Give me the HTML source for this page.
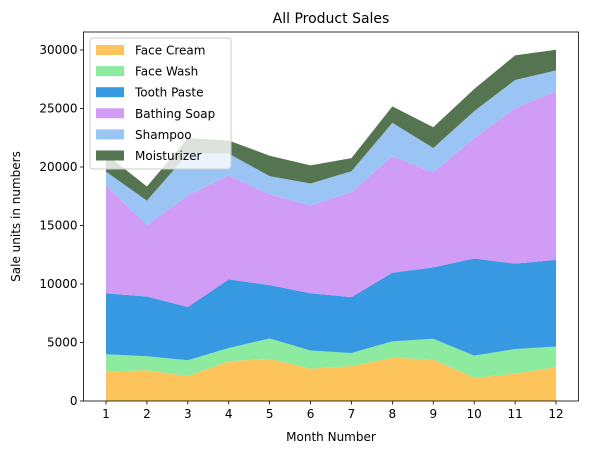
<!DOCTYPE html>
<html><head><meta charset="utf-8"><style>
body{margin:0;background:#fff;font-family:"Liberation Sans","DejaVu Sans",sans-serif}
svg text{font-family:"DejaVu Sans","Liberation Sans",sans-serif}
</style></head><body>
<svg id="c" width="589" height="455"></svg>
<script>
const months=[1,2,3,4,5,6,7,8,9,10,11,12];
const faceCream=[2500,2630,2140,3400,3600,2760,2980,3700,3540,1990,2340,2900];
const faceWash=[1500,1200,1340,1130,1740,1555,1120,1400,1780,1890,2100,1760];
const toothPaste=[5200,5100,4550,5870,4560,4890,4780,5860,6100,8300,7300,7400];
const bathingSoap=[9200,6100,9550,8870,7760,7490,8980,9960,8100,10300,13300,14400];
const shampoo=[1200,2100,3550,1870,1560,1890,1780,2860,2100,2300,2400,1800];
const moisturizer=[1500,1200,1340,1130,1740,1555,1120,1400,1780,1890,2100,1760];
const seriesNames=["Face Cream","Face Wash","Tooth Paste","Bathing Soap","Shampoo","Moisturizer"];
const yTicks=[0,5000,10000,15000,20000,25000,30000];

const colors=["#fdc45c","#8deba0","#3799e2","#d19cf5","#99c4f4","#557550"];
const L=83.5,R=578.5,T=32,B=401;
const NS="http://www.w3.org/2000/svg";
const svg=document.getElementById('c');
const x=m=>106+(m-1)*(556-106)/11;
const y=v=>B-v*(401-50)/30000;
function el(t,a,p){const e=document.createElementNS(NS,t);for(const k in a)e.setAttribute(k,a[k]);(p||svg).appendChild(e);return e;}
const series=[faceCream,faceWash,toothPaste,bathingSoap,shampoo,moisturizer];
let base=months.map(()=>0);
series.forEach((s,i)=>{
  const top=base.map((b,j)=>b+s[j]);
  let d="M"+months.map((m,j)=>x(m)+","+y(top[j])).join("L");
  d+="L"+months.slice().reverse().map((m,k)=>{const j=months.length-1-k;return x(m)+","+y(base[j]);}).join("L")+"Z";
  const p=el('path',{d:d,fill:colors[i]});
  
  
  base=top;
});
const frame=el('rect',{x:L,y:T,width:R-L,height:B-T,fill:'none',stroke:'#000','stroke-width':0.8});


months.forEach(m=>{
  el('line',{x1:x(m),x2:x(m),y1:B,y2:B+3.5,stroke:'#000','stroke-width':0.8});
  const t=el('text',{x:x(m),y:B+17,'text-anchor':'middle','font-size':12});t.textContent=m;
  
  
});
yTicks.forEach(v=>{
  el('line',{x1:L-3.5,x2:L,y1:y(v),y2:y(v),stroke:'#000','stroke-width':0.8});
  const t=el('text',{x:L-6,y:y(v)+4,'text-anchor':'end','font-size':12});t.textContent=v;
  
  
});
let t=el('text',{x:(L+R)/2,y:23,'text-anchor':'middle','font-size':14});t.textContent="All Product Sales";


t=el('text',{x:(L+R)/2,y:441,'text-anchor':'middle','font-size':12});t.textContent="Month Number";


t=el('text',{x:20,y:(T+B)/2,'text-anchor':'middle','font-size':12,transform:`rotate(-90 20 ${(T+B)/2})`});t.textContent="Sale units in numbers";


const lg=el('g',{});


el('rect',{x:90,y:38,width:141,height:131,rx:3,fill:'#fff','fill-opacity':0.8,stroke:'#ccc'},lg);
seriesNames.forEach((n,i)=>{
  const yy=50+i*21.1;
  el('rect',{x:96,y:yy-5,width:28,height:10,fill:colors[i]},lg);
  const tx=el('text',{x:135,y:yy+4.5,'font-size':12},lg);tx.textContent=n;
  
  
});
</script>
</body></html>
